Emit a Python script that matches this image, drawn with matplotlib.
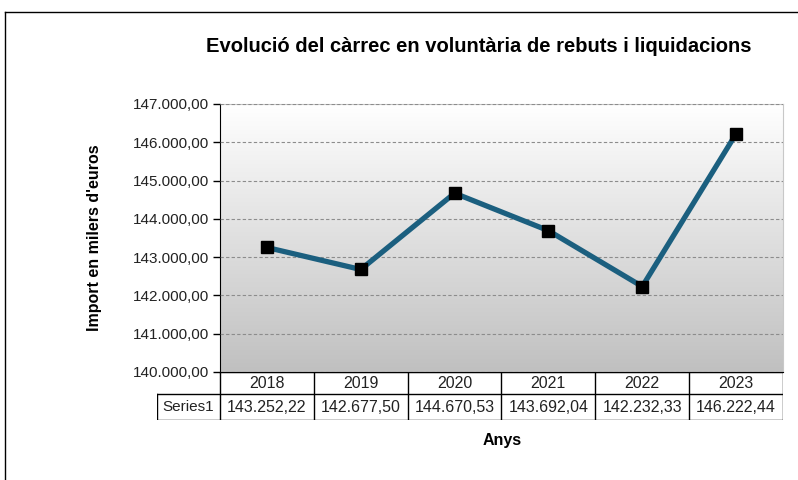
import numpy as np
import matplotlib
matplotlib.use("Agg")
import matplotlib.pyplot as plt
from matplotlib.lines import Line2D

plt.rcParams['font.family'] = ['Liberation Sans', 'DejaVu Sans']

# data
anys = ['2018', '2019', '2020', '2021', '2022', '2023']
valors = [143252.22, 142677.50, 144670.53, 143692.04, 142232.33, 146222.44]
serie = 'Series1'
y_ticks = [140000, 141000, 142000, 143000, 144000, 145000, 146000, 147000]


def format_es(v):
    # 143252.22 -> 143.252,22
    s = f"{v:,.2f}"
    return s.replace(',', 'X').replace('.', ',').replace('X', '.')


fig = plt.figure(figsize=(7.98, 4.8), dpi=100)

# outer frame of the chart
fig.add_artist(Line2D([5/798, 5/798], [0, 1 - 12/480], color='black', lw=1))
fig.add_artist(Line2D([5/798, 1], [1 - 12/480, 1 - 12/480], color='black', lw=1))

# main plot area
ax = fig.add_axes([220/798, 108/480, 563/798, 268/480])
x = np.arange(len(anys))
ax.set_xlim(-0.5, len(anys) - 0.5)

# gradient background (white top -> gray bottom)
grad = np.linspace(0, 1, 256).reshape(-1, 1)
cmap = matplotlib.colors.LinearSegmentedColormap.from_list('g', ['#ffffff', '#c0c0c0'])
ax.imshow(grad, aspect='auto', cmap=cmap, origin='upper',
          extent=[-0.5, len(anys) - 0.5, 140000, 147000],
          zorder=0, interpolation='bilinear')
ax.set_ylim(140000, 147000)

ax.set_yticks(y_ticks)
ax.set_yticklabels([format_es(v) for v in y_ticks], fontsize=11, color='#222222')
ax.yaxis.grid(True, linestyle=(0, (3, 2)), color='#8c8c8c', lw=0.8)
ax.set_axisbelow(False)
ax.set_xticks([])
ax.tick_params(axis='y', direction='out', length=5, width=1, pad=3)

for s in ['top', 'right']:
    ax.spines[s].set_color('#c8c8c8')
ax.spines['left'].set_color('black')
ax.spines['bottom'].set_color('black')

ax.plot(x, valors, color='#1b5f7f', lw=3.8, zorder=3, solid_capstyle='round')
ax.plot(x, valors, ls='none', marker='s', ms=8, color='black', zorder=4)

ax.set_ylabel("Import en milers d'euros", fontsize=11.5, fontweight='bold', labelpad=22)

fig.text(479/798, 1 - 46/480, "Evolució del càrrec en voluntària de rebuts i liquidacions",
         ha='center', va='center', fontsize=14.5, fontweight='bold')

# data table under the plot
tax = fig.add_axes([157/798, 60/480, 626/798, 48/480])
lab_w = 0.67
tax.set_xlim(-lab_w, len(anys))
tax.set_ylim(0, 48)
tax.axis('off')
# horizontal lines
tax.plot([0, len(anys)], [48, 48], color='black', lw=1)
tax.plot([-lab_w, len(anys)], [26, 26], color='black', lw=1)
tax.plot([-lab_w, len(anys)], [0, 0], color='black', lw=1)
# vertical lines
tax.plot([-lab_w, -lab_w], [0, 26], color='black', lw=1)
for i in range(len(anys) + 1):
    tax.plot([i, i], [0, 48], color='black', lw=1)
for i, (a, v) in enumerate(zip(anys, valors)):
    tax.text(i + 0.5, 37, a, ha='center', va='center', fontsize=11.5, color='#222222')
    tax.text(i + 0.5, 13, format_es(v), ha='center', va='center', fontsize=11.5, color='#222222')
tax.text(-lab_w / 2, 13, serie, ha='center', va='center', fontsize=11, color='#222222')

fig.text(502/798, 1 - 440/480, "Anys", ha='center', va='center', fontsize=11.5, fontweight='bold')

fig.savefig('out.png', dpi=100)
